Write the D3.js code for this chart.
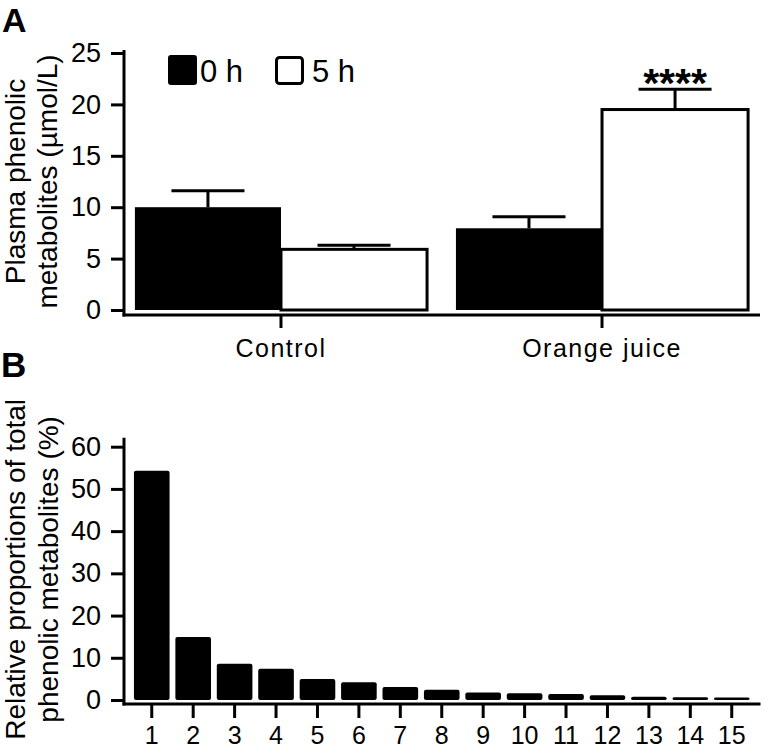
<!DOCTYPE html>
<html>
<head>
<meta charset="utf-8">
<script src="https://cdn.jsdelivr.net/npm/d3@7"></script>
<style>
  html, body { margin: 0; padding: 0; background: #fff; }
  svg { display: block; }
  text { font-family: "Liberation Sans", Arial, Helvetica, sans-serif; fill: #000; }
</style>
</head>
<body>
<svg id="chart" width="764" height="751"></svg>
<script>
// ---------- Data (Panel A) ----------
const categoriesA = ["Control", "Orange juice"];
const seriesA = ["0 h", "5 h"];
const mean0h = [10.0, 7.95];
const mean5h = [5.9, 19.5];
const sem0h = [1.6, 1.12];
const sem5h = [0.4, 1.97];
const significance = ["", "****"]; // for 5 h bars
const yTicksA = [0, 5, 10, 15, 20, 25];

// ---------- Data (Panel B) ----------
const metaboliteIds = ["1","2","3","4","5","6","7","8","9","10","11","12","13","14","15"];
const proportions = [54.3, 14.9, 8.6, 7.4, 5.0, 4.2, 3.1, 2.4, 1.8, 1.6, 1.4, 1.1, 0.75, 0.65, 0.6];
const yTicksB = [0, 10, 20, 30, 40, 50, 60];

const svg = d3.select("#chart");
const LW = 3;
const TICK_FS = 27;

// ================= Panel A =================
const A = { left: 124, right: 759, top: 53, bottom: 310, xAxisY: 315 };
const x0 = d3.scaleBand().domain(categoriesA).range([A.left, A.right]).paddingInner(0.09).paddingOuter(0.034);
const x1 = d3.scaleBand().domain(seriesA).range([0, x0.bandwidth()]);
const yA = d3.scaleLinear().domain([0, 25]).range([A.bottom, A.top]);

const rowsA = categoriesA.map((c, i) => [
  { cat: c, s: "0 h", v: mean0h[i], e: sem0h[i], sig: "" },
  { cat: c, s: "5 h", v: mean5h[i], e: sem5h[i], sig: significance[i] }
]).flat();

const gA = svg.append("g");
const eb = gA.selectAll("g.eb").data(rowsA).join("g").attr("class", "eb");
eb.append("line")
  .attr("x1", d => x0(d.cat) + x1(d.s) + x1.bandwidth() / 2)
  .attr("x2", d => x0(d.cat) + x1(d.s) + x1.bandwidth() / 2)
  .attr("y1", d => yA(d.v))
  .attr("y2", d => yA(d.v + d.e))
  .attr("stroke", "#000").attr("stroke-width", LW);
eb.append("line")
  .attr("x1", d => x0(d.cat) + x1(d.s) + x1.bandwidth() * 0.25)
  .attr("x2", d => x0(d.cat) + x1(d.s) + x1.bandwidth() * 0.75)
  .attr("y1", d => yA(d.v + d.e))
  .attr("y2", d => yA(d.v + d.e))
  .attr("stroke", "#000").attr("stroke-width", LW);

gA.selectAll("rect.bar").data(rowsA).join("rect").attr("class", "bar")
  .attr("x", d => x0(d.cat) + x1(d.s))
  .attr("width", x1.bandwidth())
  .attr("y", d => yA(d.v))
  .attr("height", d => yA(0) - yA(d.v))
  .attr("fill", d => d.s === "0 h" ? "#000" : "#fff")
  .attr("stroke", d => d.s === "0 h" ? "none" : "#000")
  .attr("stroke-width", LW);

gA.selectAll("text.sig").data(rowsA.filter(d => d.sig)).join("text").attr("class", "sig")
  .attr("x", d => x0(d.cat) + x1(d.s) + x1.bandwidth() / 2)
  .attr("y", d => yA(d.v + d.e) + 8)
  .attr("text-anchor", "middle")
  .attr("font-size", 41).attr("font-weight", "bold")
  .text(d => d.sig);

// y axis A
const yAxisA = gA.append("g").attr("transform", `translate(${A.left},0)`)
  .call(d3.axisLeft(yA).tickValues(yTicksA).tickSize(13).tickPadding(10).tickSizeOuter(0));
yAxisA.select(".domain").remove();
yAxisA.selectAll(".tick line").attr("stroke", "#000").attr("stroke-width", LW);
yAxisA.selectAll(".tick text").attr("font-size", TICK_FS).attr("font-family", null);
gA.append("line").attr("x1", A.left).attr("x2", A.left)
  .attr("y1", yA(25) - 3).attr("y2", A.xAxisY + LW / 2)
  .attr("stroke", "#000").attr("stroke-width", LW);

// x axis A
const xAxisA = gA.append("g").attr("transform", `translate(0,${A.xAxisY})`)
  .call(d3.axisBottom(x0).tickSize(13).tickPadding(11).tickSizeOuter(0));
xAxisA.select(".domain").remove();
xAxisA.selectAll(".tick line").attr("stroke", "#000").attr("stroke-width", LW);
xAxisA.selectAll(".tick text").attr("font-size", 25).attr("letter-spacing", "1.5px").attr("font-family", null);
gA.append("line").attr("x1", A.left - LW / 2).attr("x2", A.right + 1)
  .attr("y1", A.xAxisY).attr("y2", A.xAxisY)
  .attr("stroke", "#000").attr("stroke-width", LW);

// y title A
const tA = gA.append("text")
  .attr("transform", `translate(0,${(A.top + A.bottom) / 2}) rotate(-90)`)
  .attr("text-anchor", "middle").attr("font-size", 28);
tA.append("tspan").attr("x", 0).attr("y", 25).text("Plasma phenolic");
tA.append("tspan").attr("x", 0).attr("y", 57).text("metabolites (µmol/L)");

// legend A
const legend = gA.append("g");
legend.append("rect").attr("x", 168).attr("y", 55).attr("width", 29).attr("height", 30).attr("rx", 3).attr("fill", "#000");
legend.append("text").attr("x", 200).attr("y", 82).attr("font-size", 31).text(seriesA[0]);
legend.append("rect").attr("x", 276.5).attr("y", 57.5).attr("width", 26).attr("height", 26).attr("rx", 3)
  .attr("fill", "#fff").attr("stroke", "#000").attr("stroke-width", LW);
legend.append("text").attr("x", 312).attr("y", 82).attr("font-size", 31).text(seriesA[1]);

svg.append("text").attr("x", 2).attr("y", 32).attr("font-size", 34).attr("font-weight", "bold").text("A");

// ================= Panel B =================
const B = { left: 124, right: 759.5, top: 446.7, bottom: 700, xAxisY: 704 };
const xB = d3.scaleBand().domain(metaboliteIds).range([B.left, B.right]).paddingInner(0.14).paddingOuter(0.24);
const yB = d3.scaleLinear().domain([0, 60]).range([B.bottom, B.top]);

const gB = svg.append("g");
gB.selectAll("rect.bar").data(metaboliteIds.map((id, i) => ({ id, v: proportions[i] })))
  .join("rect").attr("class", "bar")
  .attr("x", d => xB(d.id))
  .attr("width", xB.bandwidth())
  .attr("y", d => yB(d.v))
  .attr("height", d => yB(0) - yB(d.v))
  .attr("rx", 2)
  .attr("fill", "#000");

const yAxisB = gB.append("g").attr("transform", `translate(${B.left},0)`)
  .call(d3.axisLeft(yB).tickValues(yTicksB).tickSize(13).tickPadding(10).tickSizeOuter(0));
yAxisB.select(".domain").remove();
yAxisB.selectAll(".tick line").attr("stroke", "#000").attr("stroke-width", LW);
yAxisB.selectAll(".tick text").attr("font-size", TICK_FS).attr("font-family", null);
gB.append("line").attr("x1", B.left).attr("x2", B.left)
  .attr("y1", yB(60) - 9).attr("y2", B.xAxisY + LW / 2)
  .attr("stroke", "#000").attr("stroke-width", LW);

const xAxisB = gB.append("g").attr("transform", `translate(0,${B.xAxisY})`)
  .call(d3.axisBottom(xB).tickSize(14).tickPadding(8).tickSizeOuter(0));
xAxisB.select(".domain").remove();
xAxisB.selectAll(".tick line").attr("stroke", "#000").attr("stroke-width", LW);
xAxisB.selectAll(".tick text").attr("font-size", 25).attr("font-family", null);
gB.append("line").attr("x1", B.left - LW / 2).attr("x2", B.right + 1)
  .attr("y1", B.xAxisY).attr("y2", B.xAxisY)
  .attr("stroke", "#000").attr("stroke-width", LW);

const tB = gB.append("text")
  .attr("transform", `translate(0,${(B.top + B.bottom) / 2 - 4}) rotate(-90)`)
  .attr("text-anchor", "middle").attr("font-size", 28);
tB.append("tspan").attr("x", 0).attr("y", 25).text("Relative proportions of total");
tB.append("tspan").attr("x", 0).attr("y", 58).text("phenolic metabolites (%)");

svg.append("text").attr("x", 1).attr("y", 377).attr("font-size", 35).attr("font-weight", "bold").text("B");
</script>
</body>
</html>
